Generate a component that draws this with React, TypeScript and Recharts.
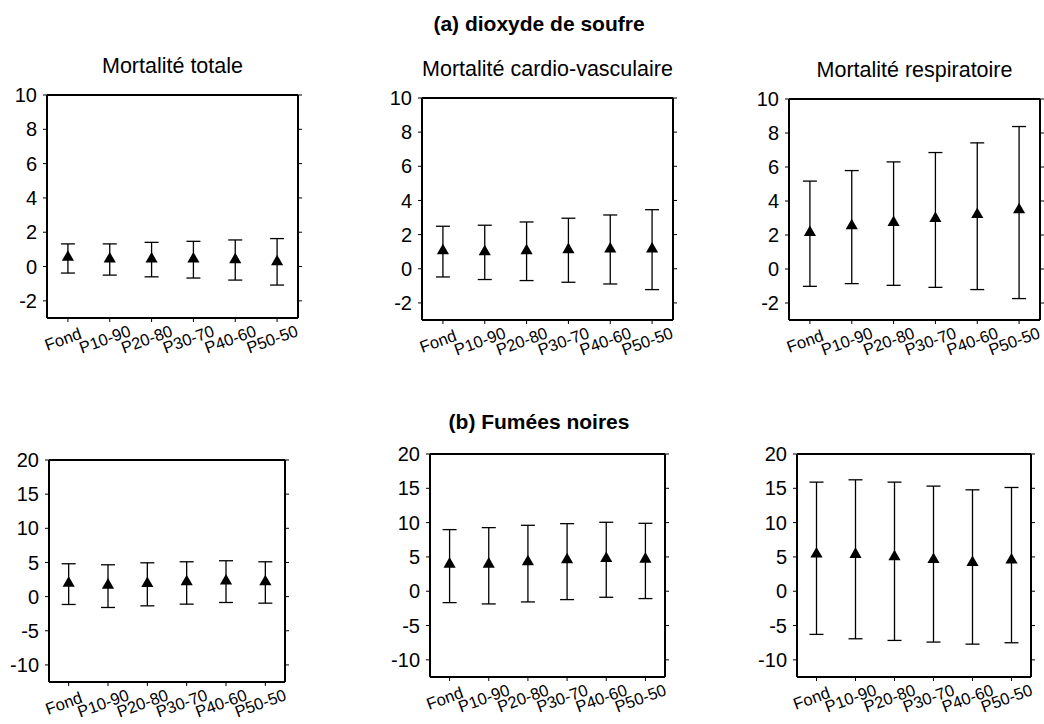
import React from "react";
import { ErrorBar, Scatter, ScatterChart, XAxis, YAxis, ZAxis } from "recharts";

const categories = ["Fond", "P10-90", "P20-80", "P30-70", "P40-60", "P50-50"];
const xPositions = [1, 2, 3, 4, 5, 6];

// (a) dioxyde de soufre
const so2TotalEst = [0.54, 0.44, 0.44, 0.44, 0.4, 0.28];
const so2TotalLow = [-0.38, -0.5, -0.6, -0.67, -0.79, -1.08];
const so2TotalHigh = [1.32, 1.32, 1.41, 1.47, 1.55, 1.63];

const so2CardioEst = [1.05, 1.0, 1.06, 1.12, 1.16, 1.16];
const so2CardioLow = [-0.48, -0.63, -0.69, -0.79, -0.89, -1.22];
const so2CardioHigh = [2.49, 2.55, 2.74, 2.96, 3.15, 3.46];

const so2RespEst = [2.15, 2.54, 2.74, 2.97, 3.21, 3.48];
const so2RespLow = [-1.02, -0.86, -0.96, -1.08, -1.21, -1.74];
const so2RespHigh = [5.17, 5.79, 6.3, 6.85, 7.42, 8.38];

// (b) Fumées noires
const fnTotalEst = [1.97, 1.68, 1.92, 2.17, 2.27, 2.17];
const fnTotalLow = [-1.15, -1.59, -1.35, -1.1, -0.86, -0.96];
const fnTotalHigh = [4.81, 4.66, 4.95, 5.1, 5.25, 5.1];

const fnCardioEst = [3.95, 3.95, 4.29, 4.59, 4.78, 4.68];
const fnCardioLow = [-1.66, -1.85, -1.56, -1.22, -0.88, -1.07];
const fnCardioHigh = [8.98, 9.27, 9.61, 9.85, 10.05, 9.9];

const fnRespEst = [5.41, 5.37, 5.02, 4.63, 4.2, 4.54];
const fnRespLow = [-6.29, -6.93, -7.17, -7.41, -7.71, -7.51];
const fnRespHigh = [15.9, 16.24, 15.9, 15.32, 14.78, 15.12];

const so2Ticks = [-2, 0, 2, 4, 6, 8, 10];
const fnTicks = [-10, -5, 0, 5, 10, 15, 20];

const FONT = '"Liberation Sans", Arial, Helvetica, sans-serif';

function buildRows(est: number[], low: number[], high: number[]) {
  return xPositions.map((x, i) => ({
    x,
    y: est[i],
    err: [est[i] - low[i], high[i] - est[i]],
  }));
}

const CatTick = (props: any) => {
  const { x, y, payload } = props;
  const tx = x - 5;
  const ty = y + 15;
  return (
    <text
      x={tx}
      y={ty}
      transform={`rotate(-20 ${tx} ${ty})`}
      textAnchor="middle"
      dominantBaseline="central"
      fontSize={16.5}
      fontFamily={FONT}
      fill="#000"
    >
      {categories[payload.value - 1]}
    </text>
  );
};

const NoTick = () => <g />;

type PanelProps = {
  box: { x: number; y: number; w: number; h: number };
  est: number[];
  low: number[];
  high: number[];
  domain: [number, number];
  ticks: number[];
  title?: string;
};

const LEFT = 60;
const TOP = 10;
const RIGHT = 6;
const BOTTOM = 60;

function Panel({ box, est, low, high, domain, ticks, title }: PanelProps) {
  const data = buildRows(est, low, high);
  const axisLine = { stroke: "#000", strokeWidth: 2 };
  const tickLine = { stroke: "#000", strokeWidth: 1 };
  return (
    <>
      {title && (
        <div
          style={{
            position: "absolute",
            left: box.x - 60,
            width: box.w + 120,
            top: box.y - 39,
            fontSize: 21.5,
            lineHeight: "21px",
            textAlign: "center",
            fontFamily: FONT,
            color: "#000",
          }}
        >
          {title}
        </div>
      )}
      <div style={{ position: "absolute", left: box.x - LEFT, top: box.y - TOP }}>
        <ScatterChart
          width={LEFT + box.w + RIGHT}
          height={TOP + box.h + BOTTOM}
          margin={{ top: 0, right: 0, bottom: 0, left: 0 }}
          style={{ overflow: "visible" }}
        >
          <XAxis
            xAxisId="bottom"
            type="number"
            dataKey="x"
            domain={[0.5, 6.5]}
            ticks={xPositions}
            allowDataOverflow
            height={BOTTOM}
            axisLine={axisLine}
            tickLine={tickLine}
            tickSize={4}
            tick={CatTick}
            interval={0}
          />
          <XAxis
            xAxisId="top"
            orientation="top"
            type="number"
            domain={[0.5, 6.5]}
            ticks={xPositions}
            allowDataOverflow
            height={TOP}
            axisLine={axisLine}
            tickLine={tickLine}
            tickSize={4}
            tick={NoTick}
            interval={0}
          />
          <YAxis
            yAxisId="left"
            type="number"
            dataKey="y"
            domain={domain}
            ticks={ticks}
            allowDataOverflow
            width={LEFT}
            axisLine={axisLine}
            tickLine={tickLine}
            tickSize={4}
            tickMargin={6}
            interval={0}
            tick={{ fill: "#000", fontSize: 20, fontFamily: FONT }}
          />
          <YAxis
            yAxisId="right"
            orientation="right"
            type="number"
            domain={domain}
            ticks={ticks}
            allowDataOverflow
            width={RIGHT}
            axisLine={axisLine}
            tickLine={tickLine}
            tickSize={4}
            tick={NoTick}
            interval={0}
          />
          <ZAxis range={[45, 45]} />
          <Scatter
            data={data}
            xAxisId="bottom"
            yAxisId="left"
            fill="#000"
            shape="triangle"
            isAnimationActive={false}
          >
            <ErrorBar
              dataKey="err"
              direction="y"
              width={7}
              stroke="#000"
              strokeWidth={1.3}
              isAnimationActive={false}
            />
          </Scatter>
        </ScatterChart>
      </div>
    </>
  );
}

export default function App() {
  return (
    <div
      style={{
        position: "absolute",
        left: 0,
        top: 0,
        width: 1044,
        height: 724,
        background: "#fff",
        fontFamily: FONT,
        overflow: "hidden",
      }}
    >
      <div
        style={{
          position: "absolute",
          left: 0,
          width: 1078,
          top: 13,
          fontSize: 21,
          lineHeight: "21px",
          fontWeight: "bold",
          textAlign: "center",
        }}
      >
        (a) dioxyde de soufre
      </div>
      <div
        style={{
          position: "absolute",
          left: 0,
          width: 1078,
          top: 411,
          fontSize: 21,
          lineHeight: "21px",
          fontWeight: "bold",
          textAlign: "center",
        }}
      >
        (b) Fumées noires
      </div>

      <Panel
        box={{ x: 47, y: 95, w: 251, h: 223 }}
        est={so2TotalEst}
        low={so2TotalLow}
        high={so2TotalHigh}
        domain={[-3, 10]}
        ticks={so2Ticks}
        title="Mortalité totale"
      />
      <Panel
        box={{ x: 422, y: 98, w: 251, h: 222 }}
        est={so2CardioEst}
        low={so2CardioLow}
        high={so2CardioHigh}
        domain={[-3, 10]}
        ticks={so2Ticks}
        title="Mortalité cardio-vasculaire"
      />
      <Panel
        box={{ x: 789, y: 99, w: 251, h: 221 }}
        est={so2RespEst}
        low={so2RespLow}
        high={so2RespHigh}
        domain={[-3, 10]}
        ticks={so2Ticks}
        title="Mortalité respiratoire"
      />

      <Panel
        box={{ x: 49, y: 460, w: 236, h: 222 }}
        est={fnTotalEst}
        low={fnTotalLow}
        high={fnTotalHigh}
        domain={[-12.5, 20]}
        ticks={fnTicks}
      />
      <Panel
        box={{ x: 430, y: 454, w: 235, h: 223 }}
        est={fnCardioEst}
        low={fnCardioLow}
        high={fnCardioHigh}
        domain={[-12.5, 20]}
        ticks={fnTicks}
      />
      <Panel
        box={{ x: 797, y: 454, w: 234, h: 223 }}
        est={fnRespEst}
        low={fnRespLow}
        high={fnRespHigh}
        domain={[-12.5, 20]}
        ticks={fnTicks}
      />
    </div>
  );
}
